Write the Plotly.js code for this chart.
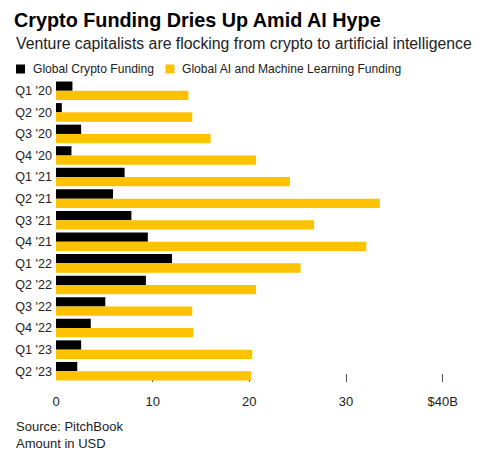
<!DOCTYPE html>
<html>
<head>
<meta charset="utf-8">
<script src="https://cdn.plot.ly/plotly-3.0.1.min.js"></script>
<style>
  html, body { margin: 0; padding: 0; background: #fff; }
  #chart { width: 493px; height: 466px; }
</style>
</head>
<body>
<div id="chart"></div>
<script>
// Quarterly venture funding, billions of USD
const quarters = ["Q1 '20", "Q2 '20", "Q3 '20", "Q4 '20", "Q1 '21", "Q2 '21", "Q3 '21",
                  "Q4 '21", "Q1 '22", "Q2 '22", "Q3 '22", "Q4 '22", "Q1 '23", "Q2 '23"];
const cryptoFunding = [1.7, 0.6, 2.6, 1.6, 7.1, 5.9, 7.8, 9.5, 12.0, 9.3, 5.1, 3.6, 2.6, 2.2];
const aiFunding = [13.7, 14.1, 16.0, 20.7, 24.2, 33.5, 26.7, 32.1, 25.3, 20.7, 14.1, 14.2, 20.3, 20.2];
const seriesNames = ["Global Crypto Funding", "Global AI and Machine Learning Funding"];
const seriesColors = ["#000000", "#FFC200"];
const xTickVals = [0, 10, 20, 30, 40];
const xTickText = ["0", "10", "20", "30", "$40B"];

const W = 493, H = 466;
const M = { l: 56, r: 31, t: 80, b: 84 };
const FONT = "Liberation Sans, Arial, sans-serif";
const INK = "#222222";

// pixel -> paper conversion for header items placed above the plot
const px = x => (x - M.l) / (W - M.l - M.r);
const py = y => 1 - (y - M.t) / (H - M.t - M.b);

const traces = [cryptoFunding, aiFunding].map((vals, i) => ({
  type: "bar",
  orientation: "h",
  y: quarters,
  x: vals,
  name: seriesNames[i],
  marker: { color: seriesColors[i], line: { width: 0 } },
  hoverinfo: "x+y",
  showlegend: false
}));

// legend: swatch + label pairs
const legendItems = [
  { sx: 16, tx: 30.5 },
  { sx: 165.5, tx: 180 }
];
const shapes = legendItems.map((it, i) => ({
  type: "rect", xref: "paper", yref: "paper",
  x0: px(it.sx), x1: px(it.sx + 9), y0: py(73.5), y1: py(64.5),
  fillcolor: seriesColors[i], line: { width: 0 }
}));

const annotations = [
  {
    text: "Venture capitalists are flocking from crypto to artificial intelligence",
    xref: "paper", yref: "paper", x: px(14), y: py(43.5),
    xanchor: "left", yanchor: "middle", showarrow: false,
    font: { family: FONT, size: 15.8, color: INK }
  },
  ...legendItems.map((it, i) => ({
    text: seriesNames[i],
    xref: "paper", yref: "paper", x: px(it.tx), y: py(69),
    xanchor: "left", yanchor: "middle", showarrow: false,
    font: { family: FONT, size: 12.1, color: INK }
  })),
  {
    text: "Source: PitchBook<br>Amount in USD",
    xref: "paper", yref: "paper", x: px(14), y: py(434.5),
    xanchor: "left", yanchor: "middle", align: "left", showarrow: false,
    font: { family: FONT, size: 13, color: INK }
  }
];

const layout = {
  width: W, height: H,
  margin: M,
  paper_bgcolor: "#ffffff",
  plot_bgcolor: "rgba(0,0,0,0)",
  font: { family: FONT, color: INK },
  title: {
    text: "<b>Crypto Funding Dries Up Amid AI Hype</b>",
    xref: "container", yref: "container",
    x: 14 / W, y: 1 - 20 / H, xanchor: "left", yanchor: "middle",
    font: { family: FONT, size: 19.8, color: "#000000" }
  },
  barmode: "group",
  bargap: 0.14,
  bargroupgap: 0,
  xaxis: {
    range: [0, 42],
    tickvals: xTickVals,
    ticktext: xTickText,
    ticks: "inside",
    ticklen: 8,
    tickwidth: 1,
    tickcolor: "#555555",
    showgrid: false,
    zeroline: false,
    showline: false,
    layer: "below traces",
    ticklabelstandoff: 10,
    tickfont: { family: FONT, size: 13, color: INK },
    fixedrange: true
  },
  yaxis: {
    type: "category",
    autorange: "reversed",
    ticks: "",
    showgrid: false,
    zeroline: false,
    showline: false,
    ticklabelstandoff: 3,
    tickfont: { family: FONT, size: 12.6, color: INK },
    fixedrange: true
  },
  shapes: shapes,
  annotations: annotations
};

Plotly.newPlot("chart", traces, layout, { displayModeBar: false, staticPlot: true });
</script>
</body>
</html>
